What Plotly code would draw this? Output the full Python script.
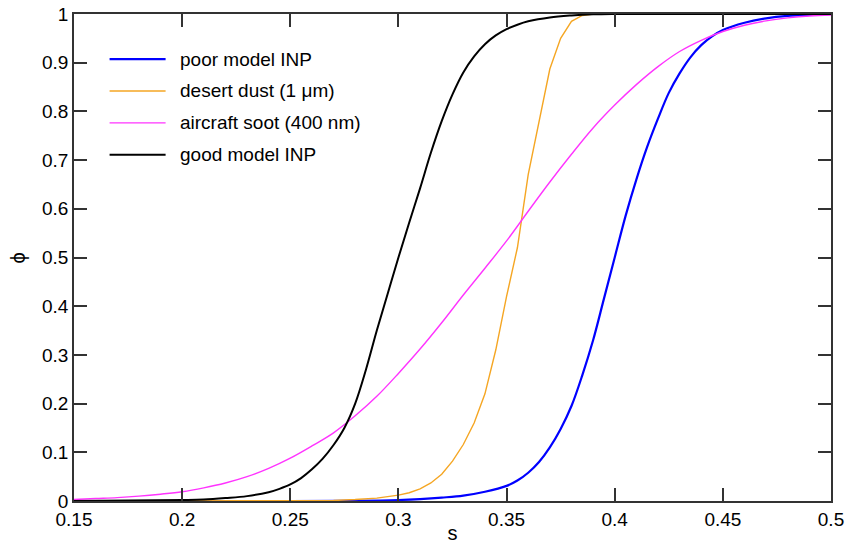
import plotly.graph_objects as go

# ---------------- data ----------------
x_poor = [0.15, 0.25, 0.28, 0.30, 0.31, 0.32, 0.33, 0.34, 0.35, 0.355, 0.36, 0.365, 0.37, 0.375,
          0.38, 0.385, 0.39, 0.395, 0.40, 0.405, 0.41, 0.415, 0.42, 0.425, 0.43, 0.435, 0.44,
          0.445, 0.45, 0.46, 0.47, 0.48, 0.49, 0.50]
y_poor = [0.0, 0.0, 0.0005, 0.002, 0.004, 0.007, 0.011, 0.019, 0.031, 0.042, 0.058, 0.080, 0.110,
          0.148, 0.195, 0.258, 0.330, 0.415, 0.500, 0.585, 0.660, 0.727, 0.785, 0.838, 0.878,
          0.911, 0.936, 0.954, 0.967, 0.982, 0.991, 0.996, 0.998, 1.0]

x_dust = [0.15, 0.25, 0.27, 0.28, 0.29, 0.30, 0.305, 0.31, 0.315, 0.32, 0.325, 0.33, 0.335, 0.34,
          0.345, 0.35, 0.355, 0.36, 0.365, 0.37, 0.375, 0.38, 0.385, 0.39, 0.50]
y_dust = [0.0, 0.0, 0.001, 0.003, 0.006, 0.012, 0.017, 0.025, 0.037, 0.055, 0.082, 0.116, 0.16,
          0.22, 0.31, 0.42, 0.52, 0.67, 0.78, 0.887, 0.95, 0.985, 0.997, 1.0, 1.0]

x_soot = [0.15, 0.16, 0.17, 0.18, 0.19, 0.20, 0.21, 0.22, 0.23, 0.24, 0.25, 0.26, 0.27, 0.28,
          0.29, 0.30, 0.31, 0.32, 0.33, 0.34, 0.35, 0.36, 0.37, 0.38, 0.39, 0.40, 0.41, 0.42,
          0.43, 0.44, 0.45, 0.46, 0.47, 0.48, 0.49, 0.50]
y_soot = [0.003, 0.005, 0.007, 0.010, 0.014, 0.019, 0.027, 0.037, 0.050, 0.067, 0.088, 0.113,
          0.140, 0.175, 0.215, 0.262, 0.312, 0.366, 0.423, 0.478, 0.534, 0.595, 0.655, 0.712,
          0.766, 0.813, 0.855, 0.892, 0.923, 0.946, 0.964, 0.977, 0.986, 0.992, 0.996, 0.998]

x_good = [0.15, 0.20, 0.21, 0.22, 0.23, 0.24, 0.245, 0.25, 0.255, 0.26, 0.265, 0.27, 0.275,
          0.28, 0.285, 0.29, 0.295, 0.30, 0.305, 0.31, 0.315, 0.32, 0.325, 0.33, 0.335, 0.34,
          0.345, 0.35, 0.355, 0.36, 0.37, 0.38, 0.39, 0.40, 0.50]
y_good = [0.0, 0.002, 0.003, 0.006, 0.010, 0.018, 0.025, 0.034, 0.047, 0.065, 0.087, 0.115,
          0.150, 0.200, 0.270, 0.350, 0.425, 0.500, 0.572, 0.642, 0.715, 0.780, 0.835, 0.880,
          0.913, 0.938, 0.956, 0.969, 0.978, 0.985, 0.993, 0.997, 0.9993, 1.0, 1.0]

series_names = ["poor model INP", "desert dust (1 \u03bcm)", "aircraft soot (400 nm)", "good model INP"]
series_colors = ["#0000ff", "#f5a623", "#ff33ff", "#000000"]
series_widths = [2.2, 1.4, 1.4, 2.0]

x_ticks = [0.15, 0.2, 0.25, 0.3, 0.35, 0.4, 0.45, 0.5]
x_tick_text = ["0.15", "0.2", "0.25", "0.3", "0.35", "0.4", "0.45", "0.5"]
y_ticks = [0, 0.1, 0.2, 0.3, 0.4, 0.5, 0.6, 0.7, 0.8, 0.9, 1]
y_tick_text = ["0", "0.1", "0.2", "0.3", "0.4", "0.5", "0.6", "0.7", "0.8", "0.9", "1"]

FONT = "Liberation Sans, Arial, sans-serif"

fig = go.Figure()
data = [(x_poor, y_poor, "spline"), (x_dust, y_dust, "linear"),
        (x_soot, y_soot, "spline"), (x_good, y_good, "spline")]
for (xs, ys, shape), name, col, w in zip(data, series_names, series_colors, series_widths):
    fig.add_trace(go.Scatter(x=xs, y=ys, mode="lines", name=name,
                             line=dict(color=col, width=w, shape=shape, smoothing=1.0),
                             showlegend=False))

# manual legend (longer line samples like the original)
leg_y0 = 0.9075
leg_dy = 0.0655
for i, (name, col, w) in enumerate(zip(series_names, series_colors, series_widths)):
    yy = leg_y0 - i * leg_dy
    fig.add_shape(type="line", xref="paper", yref="paper",
                  x0=0.047, x1=0.121, y0=yy, y1=yy,
                  line=dict(color=col, width=w))
    fig.add_annotation(xref="paper", yref="paper", x=0.138, y=yy, text=name,
                       showarrow=False, xanchor="left", yanchor="middle",
                       font=dict(family=FONT, size=19, color="#000000"))

# y-axis title placed like the original (far left)
fig.add_annotation(xref="paper", yref="paper", x=-0.074, y=0.5, text="\u03d5",
                   showarrow=False, xanchor="center", yanchor="middle", textangle=-90,
                   font=dict(family=FONT, size=20, color="#000000"))

axis_common = dict(showline=True, linecolor="#333333", linewidth=1.5, mirror="ticks",
                   ticks="inside", ticklen=13, tickwidth=1.5, tickcolor="#333333",
                   showgrid=False, zeroline=False, automargin=False,
                   tickfont=dict(family=FONT, size=19, color="#000000"))

fig.update_layout(
    width=854, height=544,
    margin=dict(l=74, r=23, t=14, b=43),
    paper_bgcolor="white", plot_bgcolor="white",
    xaxis=dict(range=[0.15, 0.5], tickvals=x_ticks, ticktext=x_tick_text,
               title=dict(text="s", font=dict(family=FONT, size=20, color="#000000"), standoff=0),
               **axis_common),
    yaxis=dict(range=[0, 1], tickvals=y_ticks, ticktext=y_tick_text, **axis_common),
)

fig.write_html("out.html")
